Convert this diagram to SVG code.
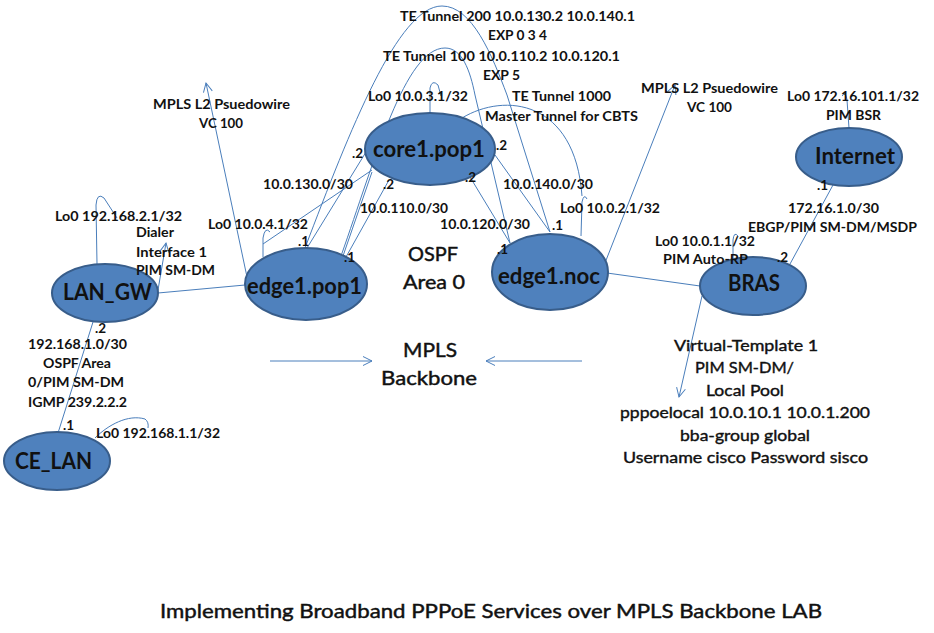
<svg xmlns="http://www.w3.org/2000/svg" width="934" height="633" viewBox="0 0 934 633">
<defs>
<marker id="arr" markerUnits="userSpaceOnUse" markerWidth="12" markerHeight="12" refX="10" refY="5" orient="auto">
<path d="M1,0.5 L10,5 L1,9.5" fill="none" stroke="#4A7EBB" stroke-width="1"/>
</marker>
<style>
.node ellipse{fill:#4F81BD;stroke:#385D8A;stroke-width:2}
.nl{font-family:Lato,"Liberation Sans",sans-serif;font-weight:bold;font-size:22px;fill:#111;text-anchor:middle}
.lb{font-family:Lato,"Liberation Sans",sans-serif;font-weight:bold;font-size:13.5px;fill:#111}
.big{font-family:Lato,"Liberation Sans",sans-serif;font-size:20px;fill:#111;stroke:#111;stroke-width:0.45;text-anchor:middle}
.mid{font-family:Lato,"Liberation Sans",sans-serif;font-size:16px;fill:#111;stroke:#111;stroke-width:0.4;text-anchor:middle}
.c{text-anchor:middle}
#connectors path{fill:none;stroke:#4A7EBB;stroke-width:1}
</style>
</defs>
<rect width="934" height="633" fill="#fff"/>
<g id="connectors">
<path d="M158,293 L245,285"/>
<path d="M158,290 L166,243" marker-end="url(#arr)"/>
<path d="M97,264 L96,205 Q97,192 104,198 L117,218"/>
<path d="M93,322 L58,433"/>
<path d="M95,438 C108,425 128,414 145,419 Q149,422 148,428"/>
<path d="M247,277 L206,83" marker-end="url(#arr)"/>
<path d="M263,257 L263,238 Q265,226 270,232"/>
<path d="M263,244 L372,170"/>
<path d="M307,248 L366,152"/>
<path d="M343,256 L372,172"/>
<path d="M346,257 L389,180"/>
<path d="M305,248 C350,130 398,6 442,6 C472,6 492,55 507,95 L550,232"/>
<path d="M341,256 C375,160 405,48 445,48 C462,48 470,70 475,95 L510,243"/>
<path d="M470,177 L510,243"/>
<path d="M495,155 L550,232"/>
<path d="M430,113 L430,88 Q432,79 438,85 L441,96"/>
<path d="M462,118 C505,92 575,100 582,196"/>
<path d="M581,236 L582,202 Q584,193 587,199"/>
<path d="M603,268 L675,85" marker-end="url(#arr)"/>
<path d="M607,273 L700,286"/>
<path d="M702,296 L679,397" marker-end="url(#arr)"/>
<path d="M733,258 L733,240 Q734,231 738,236"/>
<path d="M790,264 L833,185"/>
<path d="M849,128 L847,100 Q846,91 842,96"/>
<path d="M270,361 L372,361" marker-end="url(#arr)"/>
<path d="M582,361 L486,361" marker-end="url(#arr)"/>
</g>
<g id="core1" class="node"><ellipse cx="430" cy="149" rx="65" ry="36"/><text class="nl" x="429" y="157" textLength="112" lengthAdjust="spacingAndGlyphs">core1.pop1</text></g>
<g id="edge1pop1" class="node"><ellipse cx="306" cy="284" rx="61" ry="36"/><text class="nl" x="304.5" y="294" textLength="115" lengthAdjust="spacingAndGlyphs">edge1.pop1</text></g>
<g id="edge1noc" class="node"><ellipse cx="550" cy="272" rx="58" ry="38"/><text class="nl" x="549" y="284" textLength="102" lengthAdjust="spacingAndGlyphs">edge1.noc</text></g>
<g id="langw" class="node"><ellipse cx="105" cy="293" rx="53" ry="29"/><text class="nl" x="107.5" y="300" textLength="89" lengthAdjust="spacingAndGlyphs">LAN_GW</text></g>
<g id="celan" class="node"><ellipse cx="57" cy="461" rx="53" ry="29"/><text class="nl" x="53.5" y="469" textLength="77" lengthAdjust="spacingAndGlyphs">CE_LAN</text></g>
<g id="internet" class="node"><ellipse cx="849" cy="157" rx="53" ry="29"/><text class="nl" x="855" y="164" textLength="80" lengthAdjust="spacingAndGlyphs">Internet</text></g>
<g id="bras" class="node"><ellipse cx="753" cy="286" rx="53" ry="29"/><text class="nl" x="754" y="291" textLength="52" lengthAdjust="spacingAndGlyphs">BRAS</text></g>
<g id="labels">
<text class="lb c" x="517.5" y="21" textLength="235" lengthAdjust="spacingAndGlyphs">TE Tunnel 200 10.0.130.2  10.0.140.1</text>
<text class="lb c" x="517.5" y="40" textLength="59" lengthAdjust="spacingAndGlyphs">EXP 0 3 4</text>
<text class="lb c" x="501.5" y="61" textLength="237" lengthAdjust="spacingAndGlyphs">TE Tunnel 100 10.0.110.2  10.0.120.1</text>
<text class="lb c" x="501.5" y="80" textLength="37" lengthAdjust="spacingAndGlyphs">EXP 5</text>
<text class="lb" x="368" y="101" textLength="100" lengthAdjust="spacingAndGlyphs">Lo0 10.0.3.1/32</text>
<text class="lb c" x="561.5" y="101" textLength="99" lengthAdjust="spacingAndGlyphs">TE Tunnel 1000</text>
<text class="lb c" x="561.5" y="121" textLength="153" lengthAdjust="spacingAndGlyphs">Master Tunnel for CBTS</text>
<text class="lb c" x="221.5" y="109" textLength="137" lengthAdjust="spacingAndGlyphs">MPLS L2 Psuedowire</text>
<text class="lb c" x="221" y="128" textLength="44" lengthAdjust="spacingAndGlyphs">VC 100</text>
<text class="lb" x="55" y="221" textLength="127" lengthAdjust="spacingAndGlyphs">Lo0 192.168.2.1/32</text>
<text class="lb" x="136" y="237" textLength="38" lengthAdjust="spacingAndGlyphs">Dialer</text>
<text class="lb" x="136" y="257" textLength="71" lengthAdjust="spacingAndGlyphs">Interface 1</text>
<text class="lb" x="136" y="275" textLength="79" lengthAdjust="spacingAndGlyphs">PIM SM-DM</text>
<text class="lb" x="208" y="229" textLength="100" lengthAdjust="spacingAndGlyphs">Lo0 10.0.4.1/32</text>
<text class="lb" x="298" y="246">.1</text>
<text class="lb" x="344" y="262">.1</text>
<text class="lb" x="263" y="189" textLength="90" lengthAdjust="spacingAndGlyphs">10.0.130.0/30</text>
<text class="lb" x="352" y="158">.2</text>
<text class="lb" x="496" y="150">.2</text>
<text class="lb" x="383" y="189">.2</text>
<text class="lb" x="465" y="182">.2</text>
<text class="lb" x="503" y="189" textLength="90" lengthAdjust="spacingAndGlyphs">10.0.140.0/30</text>
<text class="lb" x="360" y="213" textLength="88" lengthAdjust="spacingAndGlyphs">10.0.110.0/30</text>
<text class="lb" x="440" y="229" textLength="90" lengthAdjust="spacingAndGlyphs">10.0.120.0/30</text>
<text class="lb" x="552" y="230">.1</text>
<text class="lb" x="497" y="254">.1</text>
<text class="lb" x="560" y="213" textLength="100" lengthAdjust="spacingAndGlyphs">Lo0 10.0.2.1/32</text>
<text class="lb c" x="709.5" y="93" textLength="137" lengthAdjust="spacingAndGlyphs">MPLS L2 Psuedowire</text>
<text class="lb c" x="709.5" y="112" textLength="45" lengthAdjust="spacingAndGlyphs">VC 100</text>
<text class="lb c" x="853" y="101" textLength="132" lengthAdjust="spacingAndGlyphs">Lo0 172.16.101.1/32</text>
<text class="lb c" x="853.5" y="120" textLength="55" lengthAdjust="spacingAndGlyphs">PIM BSR</text>
<text class="lb" x="817" y="190">.1</text>
<text class="lb c" x="833.5" y="213" textLength="91" lengthAdjust="spacingAndGlyphs">172.16.1.0/30</text>
<text class="lb c" x="832.5" y="232" textLength="169" lengthAdjust="spacingAndGlyphs">EBGP/PIM SM-DM/MSDP</text>
<text class="lb c" x="705" y="246" textLength="100" lengthAdjust="spacingAndGlyphs">Lo0 10.0.1.1/32</text>
<text class="lb c" x="705.5" y="264" textLength="85" lengthAdjust="spacingAndGlyphs">PIM Auto-RP</text>
<text class="lb" x="777" y="262">.2</text>
<text class="lb" x="95" y="333">.2</text>
<text class="lb c" x="77.5" y="349" textLength="99" lengthAdjust="spacingAndGlyphs">192.168.1.0/30</text>
<text class="lb c" x="77" y="368" textLength="68" lengthAdjust="spacingAndGlyphs">OSPF Area</text>
<text class="lb c" x="76" y="387" textLength="96" lengthAdjust="spacingAndGlyphs">0/PIM SM-DM</text>
<text class="lb c" x="77.5" y="407" textLength="99" lengthAdjust="spacingAndGlyphs">IGMP 239.2.2.2</text>
<text class="lb" x="63" y="430">.1</text>
<text class="lb" x="96" y="438" textLength="124" lengthAdjust="spacingAndGlyphs">Lo0 192.168.1.1/32</text>
<text class="big" x="433" y="261" textLength="50" lengthAdjust="spacingAndGlyphs">OSPF</text>
<text class="big" x="434" y="289" textLength="62" lengthAdjust="spacingAndGlyphs">Area 0</text>
<text class="big" x="430" y="357" textLength="54" lengthAdjust="spacingAndGlyphs">MPLS</text>
<text class="big" x="429" y="385" textLength="96" lengthAdjust="spacingAndGlyphs">Backbone</text>
<text class="mid" x="746" y="351" textLength="144" lengthAdjust="spacingAndGlyphs">Virtual-Template 1</text>
<text class="mid" x="744.5" y="373" textLength="99" lengthAdjust="spacingAndGlyphs">PIM SM-DM/</text>
<text class="mid" x="745" y="396" textLength="78" lengthAdjust="spacingAndGlyphs">Local Pool</text>
<text class="mid" x="745" y="418" textLength="250" lengthAdjust="spacingAndGlyphs">pppoelocal 10.0.10.1 10.0.1.200</text>
<text class="mid" x="745" y="441" textLength="130" lengthAdjust="spacingAndGlyphs">bba-group global</text>
<text class="mid" x="745.5" y="463" textLength="245" lengthAdjust="spacingAndGlyphs">Username cisco Password sisco</text>
<text class="big" x="491" y="618" font-size="22" textLength="662" lengthAdjust="spacingAndGlyphs">Implementing Broadband PPPoE Services over MPLS Backbone LAB</text>
</g>
</svg>
